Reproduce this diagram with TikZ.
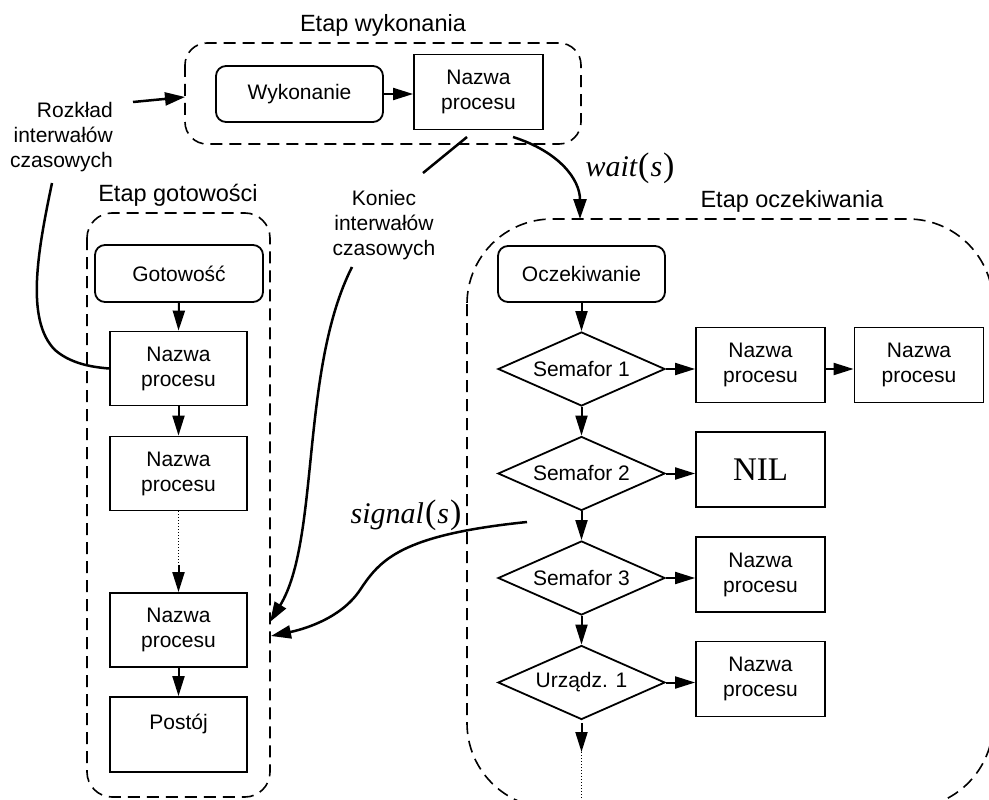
\documentclass[tikz,border=0pt]{standalone}
\usepackage{fontspec}
\setmainfont{Liberation Sans}
\newfontfamily\tnr{Liberation Serif}
\usetikzlibrary{arrows.meta,shapes.geometric}
% tall upright parentheses around an italic argument
\newcommand\oparg[1]{{\upshape\fontsize{34}{38}\selectfont(}\kern1pt#1\kern1pt{\upshape\fontsize{34}{38}\selectfont)}}

\begin{document}
\begin{tikzpicture}[x=1pt,y=-1pt,
  txt/.style={font=\fontsize{21}{25}\selectfont, align=center, inner sep=0pt},
  ttl/.style={font=\fontsize{23.5}{28}\selectfont, inner sep=0pt, anchor=base},
  proc/.style={txt, draw, line width=1.8pt, minimum width=129pt, minimum height=75pt},
  rproc/.style={proc, minimum width=137pt, minimum height=74pt},
  state/.style={txt, draw, line width=1.8pt, rounded corners=10pt, minimum width=167pt, minimum height=56pt},
  sem/.style={txt, draw, diamond, aspect=2.26, line width=1.8pt, minimum width=167pt, minimum height=74pt},
  stage/.style={draw, line width=1.6pt, dash pattern=on 12pt off 7pt},
  arr/.style={line width=2pt, -{Triangle[length=20pt,width=12pt]}},
  link/.style={line width=2.5pt},
  larr/.style={link, -{Triangle[length=20pt,width=13pt]}},
  dots/.style={line width=1pt, dotted},
  op/.style={font=\tnr\itshape\fontsize{30}{34}\selectfont, inner sep=0pt, anchor=base},
]
\clip (0,0) rectangle (989,800);

% stage frames
\draw[stage, rounded corners=22pt] (185,43) rectangle (581,144);
\draw[stage, rounded corners=25pt] (87,213) rectangle (270,797);
\draw[stage, rounded corners=85pt] (467,219) rectangle (993,808);

% stage titles
\node[ttl] (tw) at (383,32) {Etap wykonania};
\node[ttl] (tg) at (178,201) {Etap gotowości};
\node[ttl] (to) at (792,207) {Etap oczekiwania};

% execution stage
\node[state] (exe) at (299.5,94) {Wykonanie};
\node[proc] (pexe) at (478.5,92) {Nazwa\\procesu};

% side notes
\node[txt, anchor=east, align=right] (rozk) at (113,137) {Rozkład\\interwałów\\czasowych};
\node[txt] (kon) at (384,225) {Koniec\\interwałów\\czasowych};

% ready stage
\node[state, minimum width=168pt, minimum height=57pt] (got) at (179,273.5) {Gotowość};
\node[rproc] (r1) at (178.5,368.5) {Nazwa\\procesu};
\node[rproc] (r2) at (178.5,473.5) {Nazwa\\procesu};
\node[rproc] (r3) at (178.5,630) {Nazwa\\procesu};
\node[rproc, minimum height=75pt] (post) at (178.5,734.5) {Postój\\\mbox{}};

% waiting stage
\node[state] (ocz) at (581.5,274) {Oczekiwanie};
\node[sem] (s1) at (581.5,369) {Semafor 1};
\node[sem] (s2) at (581.5,473.5) {Semafor 2};
\node[sem] (s3) at (581.5,578) {Semafor 3};
\node[sem] (u1) at (581.5,682.5) {Urządz. 1};
\node[proc] (q1a) at (760.5,365) {Nazwa\\procesu};
\node[proc] (q1b) at (919,365) {Nazwa\\procesu};
\node[proc, font=\tnr\fontsize{33}{38}\selectfont] (nil) at (760.5,469.5) {NIL};
\node[proc] (q3) at (760.5,574.5) {Nazwa\\procesu};
\node[proc] (qu) at (760.5,679) {Nazwa\\procesu};

% operations
\node[op] (wt) at (630,176) {wait\kern1pt\oparg{s}};
\node[op] (sg) at (406,523) {signal\kern1pt\oparg{s}};

% free ends of connectors
\coordinate (ra) at (133,102);
\coordinate (rb) at (185,97);
\coordinate (rc) at (52,183);
\coordinate (ka) at (467,137);
\coordinate (kb) at (423,173);
\coordinate (kc) at (352,267);
\coordinate (kt) at (270,622);
\coordinate (wa) at (513,137);
\coordinate (wb) at (580,219);
\coordinate (sa) at (527,522);
\coordinate (st) at (271,636);
\coordinate (rdots) at (178.5,565);
\coordinate (udots) at (581.5,752);
\coordinate (uend) at (581.5,800);

% flow arrows
\draw[arr] (exe.east) -- (exe.east -| pexe.west);
\draw[arr] (got.south) -- (r1.north);
\draw[arr] (r1.south) -- (r2.north);
\draw[dots] (r2.south) -- (rdots);
\draw[arr] (rdots) -- (r3.north);
\draw[arr] (r3.south) -- (post.north);

\draw[arr] (ocz.south) -- (s1.north);
\draw[arr] (s1.south) -- (s2.north);
\draw[arr] (s2.south) -- (s3.north);
\draw[arr] (s3.south) -- (u1.north);
\draw[arr, shorten <=3pt] (u1.south) -- (udots);
\draw[dots] (udots) -- (uend);

\draw[arr] (s1.east) -- (s1.east -| q1a.west);
\draw[arr] (q1a.east |- s1.east) -- (q1b.west |- s1.east);
\draw[arr] (s2.east) -- (s2.east -| nil.west);
\draw[arr] (s3.east) -- (s3.east -| q3.west);
\draw[arr] (u1.east) -- (u1.east -| qu.west);

% transitions between stages
\draw[larr] (ra) -- (rb);
\draw[link] (rc) .. controls (38,250) and (25,320) .. (55,350)
                 .. controls (70,363) and (90,367) .. (r1.west);
\draw[link] (ka) -- (kb);
\draw[larr] (kc) .. controls (300,370) and (320,540) .. (kt);
\draw[larr] (wa) .. controls (560,152) and (580,180) .. (wb);
\draw[larr] (sa) .. controls (400,535) and (380,560) .. (360,590)
                 .. controls (340,620) and (300,630) .. (st);
\end{tikzpicture}
\end{document}
